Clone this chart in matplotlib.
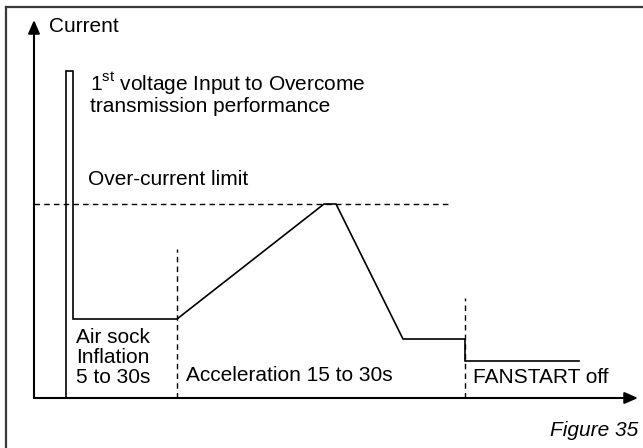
import matplotlib
matplotlib.use("Agg")
import matplotlib.pyplot as plt
from matplotlib.lines import Line2D

plt.rcParams['font.family'] = ['Liberation Sans', 'DejaVu Sans']
plt.rcParams['mathtext.fontset'] = 'custom'
plt.rcParams['mathtext.rm'] = 'Liberation Sans'

# current profile during start-up (time, current), arbitrary units
time = [32, 32, 39, 39, 143, 290, 302, 369, 431, 431, 545]
current = [0, 327, 327, 79, 79, 194, 194, 59, 59, 37, 37]

limit_level = 194
limit_end = 418

# phase boundaries: (time, height of the dashed marker)
phase_t = [143, 431]
phase_h = [149, 100]

X_MAX = 604
Y_MAX = 378

fig = plt.figure(figsize=(6.43, 4.48), dpi=100)
ax = fig.add_axes([34 / 643, 50 / 448, 604 / 643, 378 / 448])
ax.set_xlim(0, X_MAX)
ax.set_ylim(0, Y_MAX)
ax.axis('off')

# outer frame (top and left only)
fig.add_artist(Line2D([6 / 643, 1], [1 - 7 / 448, 1 - 7 / 448], color='#3a3a3a', lw=1.6))
fig.add_artist(Line2D([6 / 643, 6 / 643], [0, 1 - 7 / 448], color='#3a3a3a', lw=1.6))

# axes with arrow heads
arrow = dict(arrowstyle='-|>,head_length=0.8,head_width=0.35', color='black', lw=1.5,
             shrinkA=0, shrinkB=0)
ax.annotate('', xy=(X_MAX, 0), xytext=(0, 0), arrowprops=arrow, annotation_clip=False)
ax.annotate('', xy=(0, Y_MAX), xytext=(0, 0), arrowprops=arrow, annotation_clip=False)

ax.plot(time, current, color='black', lw=1.2, clip_on=False, solid_joinstyle='miter')
ax.plot([0, limit_end], [limit_level, limit_level], color='black', lw=1.0, ls=(0, (4, 3)))
for t, h in zip(phase_t, phase_h):
    ax.plot([t, t], [0, h], color='black', lw=1.0, ls=(0, (4, 3)))

fs = 15
ax.text(15, 372, 'Current', fontsize=fs, ha='left', va='center')
ax.text(56, 314, '1$^{\\mathrm{st}}$ voltage Input to Overcome', fontsize=fs, ha='left', va='center')
ax.text(56, 292, 'transmission performance', fontsize=fs, ha='left', va='center')
ax.text(54, 219, 'Over-current limit', fontsize=fs, ha='left', va='center')
for i, line in enumerate(['Air sock', 'Inflation', '5 to 30s']):
    ax.text(42, 61 - 20 * i, line, fontsize=fs, ha='left', va='center')
ax.text(152, 23, 'Acceleration 15 to 30s', fontsize=fs, ha='left', va='center')
ax.text(439, 21, 'FANSTART off', fontsize=fs, ha='left', va='center')

fig.text(638 / 643, 1 - 430 / 448, 'Figure 35', fontsize=fs, style='italic',
         ha='right', va='center')

fig.savefig('out.png', dpi=100)
